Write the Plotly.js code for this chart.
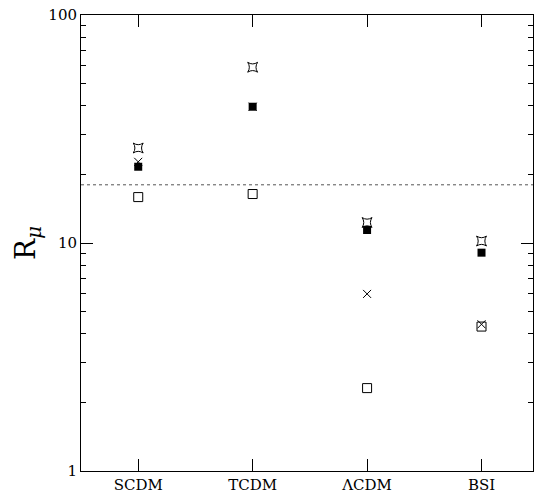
<!DOCTYPE html>
<html>
<head>
<meta charset="utf-8">
<script src="https://cdn.plot.ly/plotly-3.0.1.min.js"></script>
<style>html,body{margin:0;padding:0;background:#fff;}#chart{width:538px;height:497px;}</style>
</head>
<body>
<div id="chart"></div>
<script>
const categories = ["SCDM", "TCDM", "\u039BCDM", "BSI"];
const catPos = [1, 2, 3, 4];
const starValues = [26.1, 59.0, 12.3, 10.2];
const crossValues = [22.7, 39.6, 5.98, 4.4];
const filledValues = [21.6, 39.6, 11.4, 9.07];
const openValues = [15.9, 16.4, 2.31, 4.3];
const refLineValue = 18;
const yTickVals = [1, 10, 100];
const yTickText = ["1", "10", "100"];

const font = {family: "DejaVu Serif, Liberation Serif, serif", color: "#000"};

function series(vals, symbol, size, lw) {
  return {
    x: catPos, y: vals, type: "scatter", mode: "markers",
    marker: {symbol: symbol, size: size, color: "#000", line: {color: "#000", width: lw}},
    showlegend: false, hoverinfo: "skip"
  };
}

const data = [
  series(openValues, "square-open", 9, 1),
  series(crossValues, "x-thin-open", 8, 1),
  series(filledValues, "square", 8, 0),
  series(starValues, "star-square-open", 9, 1)
];

const layout = {
  width: 538, height: 497,
  margin: {l: 81, r: 5, t: 15, b: 26},
  paper_bgcolor: "#fff", plot_bgcolor: "#fff",
  font: Object.assign({size: 14}, font),
  xaxis: {
    range: [0.5, 4.45], tickvals: catPos, ticktext: categories,
    ticks: "inside", ticklen: 12, tickcolor: "#000", tickwidth: 1,
    showline: true, linecolor: "#000", linewidth: 1, mirror: "allticks",
    showgrid: false, zeroline: false, fixedrange: true,
    tickfont: Object.assign({size: 15}, font)
  },
  yaxis: {
    type: "log", range: [0, 2],
    tickvals: yTickVals, ticktext: yTickText,
    ticks: "inside", ticklen: 12, tickcolor: "#000", tickwidth: 1,
    showline: true, linecolor: "#000", linewidth: 1, mirror: "allticks",
    showgrid: false, zeroline: false, fixedrange: true,
    tickfont: Object.assign({size: 15}, font),
    minor: {ticks: "inside", ticklen: 5, tickcolor: "#000", tickwidth: 1, dtick: "D1", showgrid: false},
    title: {text: "R<sub><i>\u03BC</i></sub>", font: Object.assign({size: 28}, font), standoff: 4}
  },
  shapes: [{
    type: "line", xref: "paper", x0: 0, x1: 1, yref: "y", y0: refLineValue, y1: refLineValue,
    line: {color: "#555", width: 1, dash: "dot"}
  }]
};

Plotly.newPlot("chart", data, layout, {displayModeBar: false, staticPlot: true});
</script>
</body>
</html>
